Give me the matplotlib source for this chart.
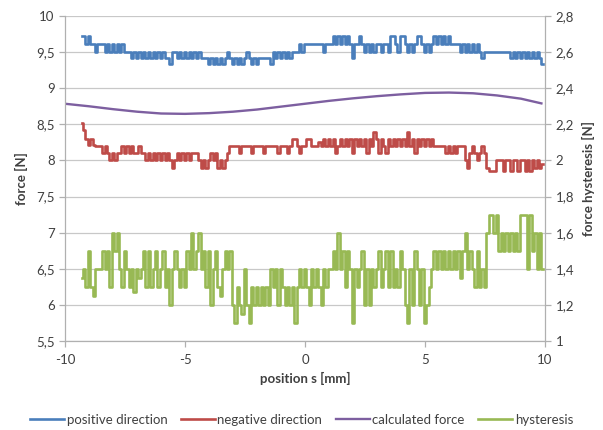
import numpy as np
import matplotlib
matplotlib.use("Agg")
import matplotlib.pyplot as plt
from matplotlib.ticker import FuncFormatter, MultipleLocator

plt.rcParams['font.family'] = ['Lato', 'DejaVu Sans']

# positions of the measured samples [mm]
position = np.round(np.arange(-9.3, 9.95, 0.1), 2)

positive_direction = [
    9.72, 9.72, 9.61, 9.72, 9.61, 9.61, 9.5, 9.61, 9.61, 9.61,
    9.5, 9.61, 9.5, 9.61, 9.5, 9.61, 9.5, 9.61, 9.5, 9.5,
    9.5, 9.42, 9.5, 9.42, 9.5, 9.42, 9.5, 9.42, 9.5, 9.42,
    9.5, 9.42, 9.5, 9.42, 9.5, 9.42, 9.42, 9.33, 9.5, 9.5,
    9.42, 9.5, 9.42, 9.5, 9.42, 9.5, 9.42, 9.5, 9.42, 9.5,
    9.42, 9.42, 9.42, 9.33, 9.42, 9.33, 9.42, 9.33, 9.42, 9.33,
    9.42, 9.5, 9.42, 9.33, 9.42, 9.33, 9.42, 9.33, 9.42, 9.5,
    9.42, 9.33, 9.42, 9.33, 9.42, 9.42, 9.42, 9.42, 9.42, 9.33,
    9.5, 9.42, 9.5, 9.42, 9.5, 9.42, 9.5, 9.42, 9.5, 9.5,
    9.5, 9.61, 9.5, 9.61, 9.61, 9.61, 9.61, 9.61, 9.61, 9.61,
    9.61, 9.5, 9.61, 9.61, 9.61, 9.72, 9.61, 9.72, 9.61, 9.72,
    9.61, 9.72, 9.61, 9.42, 9.61, 9.61, 9.72, 9.61, 9.5, 9.61,
    9.5, 9.61, 9.5, 9.61, 9.61, 9.5, 9.61, 9.61, 9.5, 9.72,
    9.72, 9.61, 9.5, 9.72, 9.72, 9.61, 9.5, 9.61, 9.5, 9.61,
    9.72, 9.72, 9.61, 9.5, 9.61, 9.5, 9.61, 9.72, 9.61, 9.72,
    9.61, 9.72, 9.61, 9.72, 9.61, 9.61, 9.61, 9.61, 9.5, 9.61,
    9.5, 9.61, 9.5, 9.61, 9.5, 9.61, 9.5, 9.42, 9.5, 9.5,
    9.5, 9.5, 9.5, 9.5, 9.5, 9.5, 9.5, 9.5, 9.5, 9.42,
    9.5, 9.42, 9.5, 9.42, 9.5, 9.42, 9.5, 9.42, 9.5, 9.42,
    9.5, 9.42, 9.33,
]

negative_direction = [
    8.52, 8.42, 8.3, 8.22, 8.3, 8.22, 8.2, 8.2, 8.2, 8.1,
    8.2, 8.1, 8.0, 8.1, 8.0, 8.1, 8.1, 8.2, 8.1, 8.2,
    8.1, 8.2, 8.1, 8.1, 8.2, 8.1, 8.1, 8.0, 8.1, 8.0,
    8.1, 8.0, 8.1, 8.0, 8.1, 8.0, 8.1, 8.0, 7.9, 8.0,
    8.1, 8.0, 8.1, 8.0, 8.1, 8.0, 8.1, 8.1, 8.1, 8.0,
    7.9, 8.0, 7.9, 8.0, 8.1, 8.0, 8.1, 7.9, 8.0, 7.9,
    8.0, 8.1, 8.2, 8.2, 8.2, 8.2, 8.1, 8.2, 8.2, 8.2,
    8.2, 8.1, 8.2, 8.2, 8.2, 8.2, 8.1, 8.2, 8.2, 8.2,
    8.2, 8.2, 8.1, 8.2, 8.2, 8.2, 8.1, 8.2, 8.3, 8.3,
    8.2, 8.1, 8.2, 8.2, 8.3, 8.3, 8.2, 8.2, 8.2, 8.25,
    8.2, 8.3, 8.2, 8.3, 8.2, 8.3, 8.1, 8.2, 8.3, 8.2,
    8.3, 8.2, 8.3, 8.1, 8.3, 8.2, 8.3, 8.2, 8.3, 8.1,
    8.3, 8.2, 8.4, 8.3, 8.1, 8.3, 8.2, 8.1, 8.3, 8.2,
    8.3, 8.2, 8.3, 8.2, 8.3, 8.2, 8.4, 8.2, 8.3, 8.1,
    8.3, 8.2, 8.3, 8.2, 8.3, 8.2, 8.3, 8.2, 8.2, 8.2,
    8.2, 8.2, 8.1, 8.2, 8.1, 8.2, 8.1, 8.2, 8.2, 8.2,
    8.0, 7.9, 8.1, 8.2, 8.1, 8.0, 8.1, 8.2, 8.1, 7.9,
    7.85, 7.85, 7.85, 8.0, 8.0, 8.0, 7.85, 8.0, 8.0, 7.85,
    8.0, 8.0, 7.85, 8.0, 8.0, 7.85, 8.0, 7.85, 8.0, 7.9,
    8.0, 7.9, 7.95,
]

hysteresis = [
    1.35, 1.4, 1.3, 1.5, 1.3, 1.25, 1.4, 1.4, 1.4, 1.5,
    1.4, 1.5, 1.3, 1.6, 1.5, 1.6, 1.4, 1.3, 1.5, 1.4,
    1.3, 1.4, 1.27, 1.4, 1.35, 1.4, 1.5, 1.3, 1.5, 1.3,
    1.4, 1.5, 1.3, 1.4, 1.5, 1.3, 1.4, 1.2, 1.4, 1.5,
    1.4, 1.3, 1.4, 1.3, 1.5, 1.4, 1.6, 1.4, 1.5, 1.6,
    1.4, 1.5, 1.3, 1.5, 1.2, 1.4, 1.5, 1.3, 1.25, 1.4,
    1.5, 1.4, 1.5, 1.2, 1.1, 1.3, 1.2, 1.15, 1.4, 1.2,
    1.1, 1.3, 1.2, 1.3, 1.2, 1.3, 1.2, 1.3, 1.2, 1.4,
    1.3, 1.4, 1.2, 1.4, 1.3, 1.2, 1.3, 1.2, 1.3, 1.1,
    1.3, 1.4, 1.3, 1.4, 1.3, 1.2, 1.4, 1.3, 1.4, 1.3,
    1.2, 1.4, 1.3, 1.4, 1.4, 1.5, 1.4, 1.6, 1.4, 1.5,
    1.3, 1.5, 1.4, 1.1, 1.4, 1.3, 1.4, 1.5, 1.2, 1.4,
    1.2, 1.4, 1.3, 1.4, 1.5, 1.3, 1.4, 1.5, 1.3, 1.5,
    1.3, 1.4, 1.3, 1.5, 1.4, 1.2, 1.1, 1.4, 1.2, 1.5,
    1.4, 1.2, 1.4, 1.1, 1.2, 1.3, 1.4, 1.5, 1.4, 1.5,
    1.4, 1.5, 1.4, 1.5, 1.4, 1.5, 1.4, 1.5, 1.35, 1.5,
    1.6, 1.4, 1.5, 1.4, 1.3, 1.5, 1.3, 1.4, 1.3, 1.6,
    1.7, 1.7, 1.6, 1.7, 1.5, 1.6, 1.5, 1.6, 1.5, 1.6,
    1.5, 1.6, 1.5, 1.7, 1.7, 1.7, 1.4, 1.7, 1.5, 1.6,
    1.4, 1.6, 1.4,
]

calc_position = [-10, -9, -8, -7, -6, -5, -4, -3, -2, -1, 0,
                 1, 2, 3, 4, 5, 6, 7, 8, 9, 9.85]
calculated_force = [8.785, 8.75, 8.71, 8.675, 8.65, 8.645, 8.655, 8.675, 8.705, 8.745, 8.785,
                    8.825, 8.86, 8.89, 8.915, 8.935, 8.94, 8.93, 8.9, 8.855, 8.79]

C_BLUE = '#4a7ebb'
C_RED = '#be4b48'
C_PURPLE = '#7d5fa0'
C_GREEN = '#98b954'
GRID = '#c8c8c8'
TXT = '#404040'

W, H = 603, 430
fig = plt.figure(figsize=(W / 100, H / 100), dpi=100)
ax = fig.add_axes([65 / W, 1 - 341 / H, (545 - 65) / W, (341 - 16) / H])
ax2 = ax.twinx()

lw = 1.9
l1, = ax.plot(position, positive_direction, color=C_BLUE, lw=lw, drawstyle='steps-mid')
l2, = ax.plot(position, negative_direction, color=C_RED, lw=lw, drawstyle='steps-mid')
l3, = ax.plot(calc_position, calculated_force, color=C_PURPLE, lw=1.7)
l4, = ax2.plot(position, hysteresis, color=C_GREEN, lw=lw, drawstyle='steps-mid')

ax.set_xlim(-10, 10)
ax.set_ylim(5.5, 10)
ax2.set_ylim(1, 2.8)
ax.xaxis.set_major_locator(MultipleLocator(5))
ax.yaxis.set_major_locator(MultipleLocator(0.5))
ax2.yaxis.set_major_locator(MultipleLocator(0.2))

def comma(v, pos):
    s = ('%.1f' % v)
    if s.endswith('.0'):
        s = s[:-2]
    return s.replace('.', ',')

ax.yaxis.set_major_formatter(FuncFormatter(comma))
ax2.yaxis.set_major_formatter(FuncFormatter(comma))
ax.xaxis.set_major_formatter(FuncFormatter(lambda v, p: '%d' % v))

ax.grid(axis='y', color=GRID, lw=0.9)
ax.set_axisbelow(True)
for a in (ax, ax2):
    a.spines['top'].set_visible(False)
    for s in ('left', 'right', 'bottom'):
        a.spines[s].set_color('#b0b0b0')
        a.spines[s].set_linewidth(0.9)
ax.spines['right'].set_visible(False)
ax2.spines['left'].set_visible(False)
ax2.spines['bottom'].set_visible(False)

ax.tick_params(axis='both', colors='#b0b0b0', labelcolor=TXT, labelsize=9.5, length=4, width=0.9)
ax2.tick_params(axis='y', colors='#b0b0b0', labelcolor=TXT, labelsize=9.5, length=4, width=0.9)
ax.tick_params(axis='x', pad=5)

ax.set_xlabel('position s [mm]', fontsize=9.5, fontweight='bold', color=TXT, labelpad=5)
ax.set_ylabel('force [N]', fontsize=9.5, fontweight='bold', color=TXT, labelpad=6)
ax2.set_ylabel('force hysteresis [N]', fontsize=9.5, fontweight='bold', color=TXT, labelpad=6)

fig.legend([l1, l2, l3, l4],
           ['positive direction', 'negative direction', 'calculated force', 'hysteresis'],
           loc='center', bbox_to_anchor=(0.5, 1 - 420 / H), ncol=4, frameon=False,
           fontsize=9.5, handlelength=2.6, handletextpad=0.2, columnspacing=1.0,
           labelcolor=TXT)

fig.savefig('out.png', dpi=100)
